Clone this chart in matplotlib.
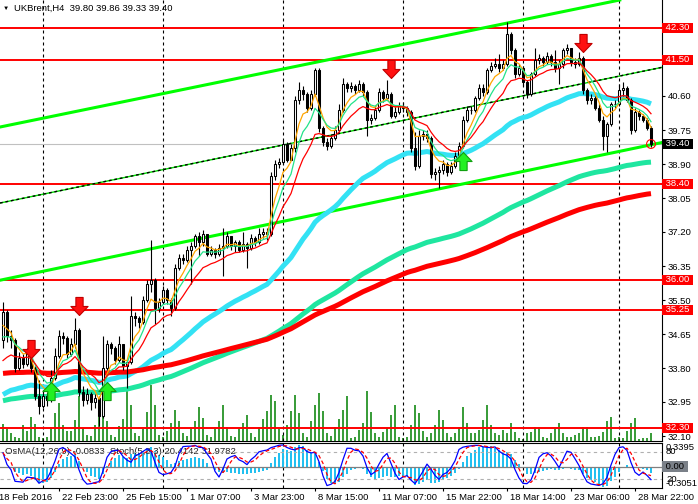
import numpy as np
import pandas as pd
import matplotlib
matplotlib.use('Agg')
import matplotlib.pyplot as plt
from matplotlib.path import Path

plt.rcParams['font.family'] = ['Liberation Sans', 'DejaVu Sans']
plt.rcParams['font.size'] = 6.8

ANCHO, ALTO = 698, 504

# ---- Datos (UKBrent H4) ----
apertura_inicial = 34.50
cierres = [
    35.20, 34.60, 34.50, 33.80, 34.05, 33.90, 34.20, 33.80, 33.10, 32.85,
    33.10, 33.00, 33.55, 34.10, 34.60, 34.55, 34.15, 34.40, 34.75, 33.20,
    33.00, 33.15, 32.95, 33.05, 32.60, 33.80, 34.40, 34.30, 34.00, 34.40,
    33.85, 33.95, 35.10, 35.05, 34.95, 35.50, 35.90, 36.00, 35.30, 35.45,
    35.75, 35.50, 35.30, 36.30, 36.55, 36.50, 36.75, 36.85, 37.10, 36.95,
    37.15, 36.65, 36.75, 36.65, 36.80, 36.85, 37.10, 36.85, 36.95, 36.75,
    36.90, 36.80, 37.05, 36.95, 37.15, 37.20, 37.15, 38.60, 38.90, 38.95,
    39.40, 39.00, 39.30, 40.50, 40.75, 40.65, 40.30, 40.65, 41.25, 39.80,
    39.45, 39.35, 39.55, 39.75, 40.25, 40.90, 40.80, 40.85, 40.75, 40.90,
    40.70, 40.00, 40.05, 40.25, 40.70, 40.55, 40.65, 40.10, 40.20, 40.35,
    40.30, 40.20, 39.30, 38.85, 39.60, 39.65, 39.55, 38.65, 38.70, 38.75,
    38.90, 38.70, 38.85, 39.10, 39.35, 40.00, 40.25, 40.25, 40.55, 40.80,
    40.70, 41.25, 41.35, 41.40, 41.30, 41.40, 42.15, 41.75, 41.15, 41.30,
    40.95, 40.65, 41.15, 41.50, 41.55, 41.45, 41.60, 41.45, 41.30, 41.40,
    41.75, 41.80, 41.45, 41.40, 41.55, 40.75, 40.50, 40.55, 40.30, 40.00,
    39.60, 39.90, 40.40, 40.40, 40.75, 40.80, 40.50, 39.75, 40.20, 40.10,
    40.00, 39.80, 39.40]
maximos = [
    35.45, 35.25, 34.75, 34.55, 34.20, 34.15, 34.30, 34.30, 33.85, 33.50,
    33.25, 33.20, 33.75, 34.30, 34.75, 34.70, 34.60, 34.55, 35.05, 34.80,
    33.35, 33.30, 33.20, 33.15, 33.10, 34.60, 34.50, 34.45, 34.35, 34.60,
    34.40, 34.00, 35.60, 35.20, 35.10, 35.60, 36.00, 37.00, 36.05, 35.55,
    35.85, 35.80, 35.55, 36.40, 36.65, 36.65, 36.85, 36.95, 37.15, 37.20,
    37.25, 37.15, 36.85, 36.80, 36.90, 37.30, 37.20, 37.10, 37.00, 37.00,
    37.20, 36.95, 37.15, 37.10, 37.30, 37.30, 37.30, 38.70, 39.00, 39.05,
    39.50, 39.45, 39.40, 40.60, 40.95, 40.85, 40.70, 40.75, 41.30, 41.30,
    39.85, 39.55, 39.65, 39.85, 40.40, 41.05, 40.95, 40.95, 40.90, 41.00,
    40.95, 40.75, 40.15, 40.35, 40.80, 40.75, 41.00, 40.70, 40.35, 40.45,
    40.45, 40.35, 40.25, 39.70, 39.75, 39.75, 39.75, 39.60, 38.80, 38.85,
    39.00, 38.95, 38.95, 39.20, 39.45, 40.10, 40.35, 40.35, 40.60, 40.90,
    40.90, 41.30, 41.45, 41.55, 41.65, 41.50, 42.45, 42.20, 41.80, 41.40,
    41.35, 41.00, 41.20, 41.80, 41.65, 41.60, 41.70, 41.65, 41.75, 41.50,
    41.80, 41.90, 41.80, 41.55, 41.70, 41.60, 40.80, 40.65, 40.60, 40.40,
    40.10, 39.95, 40.45, 40.50, 40.90, 40.95, 40.85, 40.55, 40.30, 40.25,
    40.15, 40.05, 39.86]
minimos = [
    34.30, 34.45, 34.30, 33.70, 33.75, 33.80, 33.85, 33.70, 33.00, 32.65,
    32.80, 32.85, 32.95, 33.50, 34.05, 34.40, 34.05, 34.10, 34.30, 33.10,
    32.85, 32.90, 32.75, 32.80, 32.35, 32.55, 33.75, 34.15, 33.90, 33.95,
    33.75, 33.30, 33.90, 34.85, 34.80, 34.90, 35.45, 35.70, 34.90, 35.20,
    35.40, 35.40, 35.10, 35.25, 36.25, 36.40, 36.45, 35.90, 36.80, 36.60,
    36.85, 36.60, 36.60, 36.55, 36.60, 36.10, 36.80, 36.75, 36.70, 36.70,
    36.70, 36.30, 36.75, 36.85, 36.90, 37.05, 37.00, 37.10, 38.50, 38.80,
    38.90, 38.95, 39.00, 39.20, 40.40, 40.50, 40.20, 40.25, 40.60, 39.70,
    39.35, 39.25, 39.30, 39.50, 39.70, 40.20, 40.70, 40.70, 40.65, 40.70,
    40.60, 39.60, 39.90, 40.00, 40.20, 40.45, 40.50, 40.05, 40.05, 40.15,
    40.20, 40.10, 39.20, 38.75, 38.80, 39.50, 39.45, 38.55, 38.50, 38.30,
    38.65, 38.60, 38.65, 38.80, 39.05, 39.30, 39.95, 40.15, 40.20, 40.50,
    40.60, 40.65, 41.20, 41.30, 41.20, 41.25, 41.35, 41.65, 41.05, 41.10,
    40.85, 40.55, 40.60, 41.10, 41.40, 41.35, 41.40, 41.35, 41.20, 40.90,
    41.30, 41.65, 41.35, 41.30, 41.35, 40.65, 40.40, 40.40, 40.25, 39.95,
    39.25, 39.20, 39.85, 40.30, 40.35, 40.60, 40.45, 39.65, 39.70, 40.00,
    39.95, 39.75, 39.33]
volumenes = [
    17, 12, 8, 4, 3, 16, 10, 24, 17, 4,
    3, 4, 14, 28, 38, 16, 10, 10, 21, 45,
    13, 6, 5, 16, 24, 45, 20, 6, 4, 15,
    22, 51, 36, 8, 5, 12, 29, 56, 36, 6,
    4, 10, 18, 31, 20, 8, 5, 14, 20, 34,
    23, 6, 4, 12, 20, 36, 14, 5, 4, 12,
    18, 26, 8, 4, 14, 22, 30, 46, 40, 12,
    6, 16, 30, 46, 28, 8, 4, 20, 36, 48,
    30, 8, 5, 14, 22, 31, 45, 3, 4, 11,
    18, 50, 29, 8, 4, 9, 13, 26, 36, 4,
    3, 4, 16, 36, 28, 10, 4, 8, 16, 31,
    21, 8, 4, 8, 14, 34, 18, 8, 8, 11,
    21, 36, 16, 8, 6, 11, 8, 18, 9, 3,
    2, 8, 9, 14, 14, 4, 3, 8, 12, 18,
    8, 4, 4, 6, 8, 14, 14, 4, 4, 5,
    9, 20, 24, 3, 4, 3, 10, 18, 23, 2,
    3, 3, 8]

niveles_rojos = [42.30, 41.50, 38.40, 36.00, 35.25, 32.30]
precio_actual = 39.40
ticks_precio = [32.10, 32.95, 33.80, 34.65, 35.50, 36.35, 37.20,
                38.05, 38.90, 39.75, 40.60, 41.45, 42.30]
separadores = [10, 40, 70, 100, 130, 154]
barras_fecha = [0, 14, 30, 46, 62, 78, 94, 110, 126, 142, 158]
etiquetas_fecha = ['18 Feb 2016', '22 Feb 23:00', '25 Feb 15:00', '1 Mar 07:00',
                   '3 Mar 23:00', '8 Mar 15:00', '11 Mar 07:00', '15 Mar 22:00',
                   '18 Mar 14:00', '23 Mar 06:00', '28 Mar 22:00']

# señales (barra, precio de la punta)
flechas_abajo_barra = [7, 19, 97, 145]
flechas_abajo_precio = [34.05, 35.13, 41.05, 41.70]
flechas_arriba_barra = [12, 26, 115]
flechas_arriba_precio = [33.45, 33.45, 39.20]

# lineas de canal: dos puntos (barra, precio)
canal_superior = [(0, 39.84), (162, 43.16)]
canal_inferior = [(0, 36.01), (162, 39.38)]
canal_medio = [(0, 37.94), (162, 41.26)]

# medias moviles: (periodo, valor inicial, color)
medias_finas = [(5, 34.70, '#ffa500'), (8, 34.40, '#22e38a'), (14, 33.80, '#ff0000')]
medias_gruesas = [(50, 33.05, '#33e2f4'), (140, 32.95, '#1fe6a0'), (200, 33.65, '#ff0000')]
semillas_macd = (34.50, 34.30)

titulo = 'UKBrent,H4  39.80 39.86 39.33 39.40'
texto_indicador = 'OsMA(12,26,9) -0.0833  Stoch(5,3,3) 20.4142 31.9782'
osma_max, osma_min = 0.3395, -0.3051

n = len(cierres)
assert len(maximos) == n and len(minimos) == n and len(volumenes) == n

c = np.array(cierres)
h = np.array(maximos)
l = np.array(minimos)
o = np.concatenate([[apertura_inicial], c[:-1]])
x = np.arange(n)


def ema(serie, periodo, semilla):
    alfa = 2.0 / (periodo + 1)
    res = []
    prev = semilla
    for v in serie:
        prev = prev + alfa * (v - prev)
        res.append(prev)
    return np.array(res)


# OsMA (12,26,9)
macd = ema(c, 12, semillas_macd[0]) - ema(c, 26, semillas_macd[1])
senal = pd.Series(macd).rolling(9, min_periods=1).mean().values
osma = macd - senal

# Estocastico (5,3,3)
sc, sh, sl = pd.Series(c), pd.Series(h), pd.Series(l)
ll = sl.rolling(5, min_periods=1).min()
hh = sh.rolling(5, min_periods=1).max()
k = 100 * (sc - ll).rolling(3, min_periods=1).sum() / (hh - ll).rolling(3, min_periods=1).sum()
d = k.rolling(3, min_periods=1).mean()

# ---- Figura ----
fig = plt.figure(figsize=(ANCHO / 100, ALTO / 100), dpi=100)
fig.patch.set_facecolor('white')

ax = fig.add_axes([0, (ALTO - 441) / ALTO, 662 / ANCHO, 441 / ALTO])
ax_vol = ax.twinx()
ax.set_zorder(ax_vol.get_zorder() + 1)
ax.patch.set_visible(False)

xlim = (-0.75, 164.75)
ax.set_xlim(*xlim)
ax.set_ylim(31.975, 43.0)

# volumenes
ax_vol.vlines(x, 0, volumenes, color='#008000', lw=1.1)
ax_vol.set_ylim(0, 441)
ax_vol.set_yticks([])
for s in ax_vol.spines.values():
    s.set_visible(False)

# separadores semanales
for sep in separadores:
    ax.axvline(sep, color='black', lw=0.8, ls=(0, (2.7, 2.7)), zorder=1)

# niveles horizontales
for nivel in niveles_rojos:
    ax.axhline(nivel, color='#ff0000', lw=1.4, zorder=2)
ax.axhline(precio_actual, color='#c0c0c0', lw=0.8, zorder=1.5)

# canal
ax.axline(canal_superior[0], canal_superior[1], color='#00ff00', lw=2.2, zorder=2)
ax.axline(canal_inferior[0], canal_inferior[1], color='#00ff00', lw=2.2, zorder=2)
ax.axline(canal_medio[0], canal_medio[1], color='#00dd00', lw=1.0, zorder=2)
ax.axline(canal_medio[0], canal_medio[1], color='black', lw=1.0, ls=(0, (2, 2)), zorder=2.1)

# medias gruesas
for periodo, semilla, color in medias_gruesas:
    ax.plot(x, ema(c, periodo, semilla), color=color, lw=3.6, zorder=2.5, solid_capstyle='butt')

# velas
sube = c >= o
ax.vlines(x, l, h, color='black', lw=0.8, zorder=3)
base = np.minimum(o, c)
alto = np.maximum(np.abs(c - o), 0.012)
ax.bar(x[sube], alto[sube], bottom=base[sube], width=0.5, color='white',
       edgecolor='black', lw=0.75, zorder=4)
ax.bar(x[~sube], alto[~sube], bottom=base[~sube], width=0.5, color='black',
       edgecolor='black', lw=0.75, zorder=4)

# medias finas
for periodo, semilla, color in medias_finas:
    ax.plot(x, ema(c, periodo, semilla), color=color, lw=0.9, zorder=5)

# flechas
flecha_abajo = Path([(0, 0), (-1, 1.05), (-0.42, 1.05), (-0.42, 2.1),
                     (0.42, 2.1), (0.42, 1.05), (1, 1.05), (0, 0)])
flecha_arriba = Path([(0, 0), (-1, -1.05), (-0.42, -1.05), (-0.42, -2.1),
                      (0.42, -2.1), (0.42, -1.05), (1, -1.05), (0, 0)])
ax.plot(flechas_abajo_barra, flechas_abajo_precio, ls='none', marker=flecha_abajo,
        markersize=26, markerfacecolor='#ff1010', markeredgecolor='#c00000',
        markeredgewidth=0.8, zorder=7)
ax.plot(flechas_arriba_barra, flechas_arriba_precio, ls='none', marker=flecha_arriba,
        markersize=26, markerfacecolor='#22f022', markeredgecolor='#10a010',
        markeredgewidth=0.8, zorder=7)

ax.scatter([x[-1]], [precio_actual], s=40, facecolors='none', edgecolors='red',
           lw=0.8, zorder=8)

# ejes del grafico principal
for lado in ['left', 'top']:
    ax.spines[lado].set_visible(False)
ax.spines['right'].set_linewidth(0.8)
ax.spines['bottom'].set_linewidth(0.8)
ax.set_xticks([])
ax.yaxis.tick_right()
ax.set_yticks(ticks_precio)
# la etiqueta de 42.30 queda tapada por la caja roja del nivel
ax.set_yticklabels([f'{t:.2f}' if t not in niveles_rojos else '' for t in ticks_precio])
ax.tick_params(axis='y', length=2.5, width=0.8, pad=1.5, labelsize=6.8)

for nivel in niveles_rojos:
    ax.annotate(f' {nivel:.2f} ', xy=(1, nivel), xycoords=('axes fraction', 'data'),
                xytext=(1, 0), textcoords='offset pixels', ha='left', va='center',
                color='white', fontsize=6.8, annotation_clip=False, zorder=10,
                bbox=dict(boxstyle='square,pad=0.1', fc='#ff0000', ec='none'))
ax.annotate(f' {precio_actual:.2f} ', xy=(1, precio_actual), xycoords=('axes fraction', 'data'),
            xytext=(1, 0), textcoords='offset pixels', ha='left', va='center',
            color='white', fontsize=6.8, annotation_clip=False, zorder=10,
            bbox=dict(boxstyle='square,pad=0.1', fc='black', ec='none'))

fig.text(3 / ANCHO, 1 - 8 / ALTO, '\u25bc', fontsize=4.5, va='center', ha='left')
fig.text(14 / ANCHO, 1 - 8 / ALTO, titulo, fontsize=6.8, va='center', ha='left')

# ---- Subventana de indicadores ----
ax_ind = fig.add_axes([0, (ALTO - 488) / ALTO, 662 / ANCHO, 45 / ALTO])
ax_ind.set_xlim(*xlim)
ax_ind.set_ylim(osma_min, osma_max)
ax_ind.bar(x, osma, width=0.7, color='#22c0f0', zorder=2)
ax_ind.axhline(0, color='#808080', lw=0.9, zorder=3)
for sep in separadores:
    ax_ind.axvline(sep, color='black', lw=0.8, ls=(0, (2.7, 2.7)), zorder=1)

ax_st = ax_ind.twinx()
ax_st.set_ylim(0, 100)
ax_st.axhline(80, color='#b0b0b0', lw=0.8, ls=(0, (3, 3)))
ax_st.axhline(20, color='#b0b0b0', lw=0.8, ls=(0, (3, 3)))
ax_st.plot(x, k, color='#0000ff', lw=0.9)
ax_st.plot(x, d, color='#ff0000', lw=0.9, ls=(0, (3, 2)))
ax_st.set_yticks([])
for s in ax_st.spines.values():
    s.set_visible(False)

ax_ind.spines['left'].set_visible(False)
for lado in ['top', 'bottom', 'right']:
    ax_ind.spines[lado].set_linewidth(0.8)
ax_ind.set_yticks([])
ax_ind.set_xticks(barras_fecha[1:])
ax_ind.tick_params(axis='x', length=2.5, width=0.8, labelbottom=False)

ax_ind.annotate(texto_indicador, xy=(0, 1), xycoords='axes fraction', xytext=(5, -9),
                textcoords='offset pixels', ha='left', va='center', fontsize=6.8,
                color='#202020', zorder=6)

# etiquetas de la escala del indicador
ax_ind.annotate(f'{osma_max:.4f}', xy=(1, osma_max), xycoords=('axes fraction', 'data'),
                xytext=(4, 0), textcoords='offset pixels', ha='left', va='top',
                annotation_clip=False)
ax_ind.annotate(f'{osma_min:.4f}', xy=(1, osma_min), xycoords=('axes fraction', 'data'),
                xytext=(4, 0), textcoords='offset pixels', ha='left', va='bottom',
                annotation_clip=False)
ax_st.annotate('80', xy=(1, 80), xycoords=('axes fraction', 'data'),
               xytext=(4, 0), textcoords='offset pixels', ha='left', va='center',
               annotation_clip=False)
ax_st.annotate('20', xy=(1, 20), xycoords=('axes fraction', 'data'),
               xytext=(4, 0), textcoords='offset pixels', ha='left', va='center',
               annotation_clip=False)
ax_ind.annotate(' 0.00 ', xy=(1, 0), xycoords=('axes fraction', 'data'),
                xytext=(1, 0), textcoords='offset pixels', ha='left', va='center',
                annotation_clip=False, color='black',
                bbox=dict(boxstyle='square,pad=0.1', fc='#7a8088', ec='none'))

# etiquetas de fecha
ax_ind.annotate(etiquetas_fecha[0], xy=(0, 0), xycoords='axes fraction', xytext=(-1, -9),
                textcoords='offset pixels', ha='left', va='center', annotation_clip=False)
for barra, etiqueta in zip(barras_fecha[1:], etiquetas_fecha[1:]):
    ax_ind.annotate(etiqueta, xy=(barra, 0), xycoords=('data', 'axes fraction'),
                    xytext=(3, -9), textcoords='offset pixels', ha='left', va='center',
                    annotation_clip=False)

fig.savefig('out.png', dpi=100, facecolor='white')
